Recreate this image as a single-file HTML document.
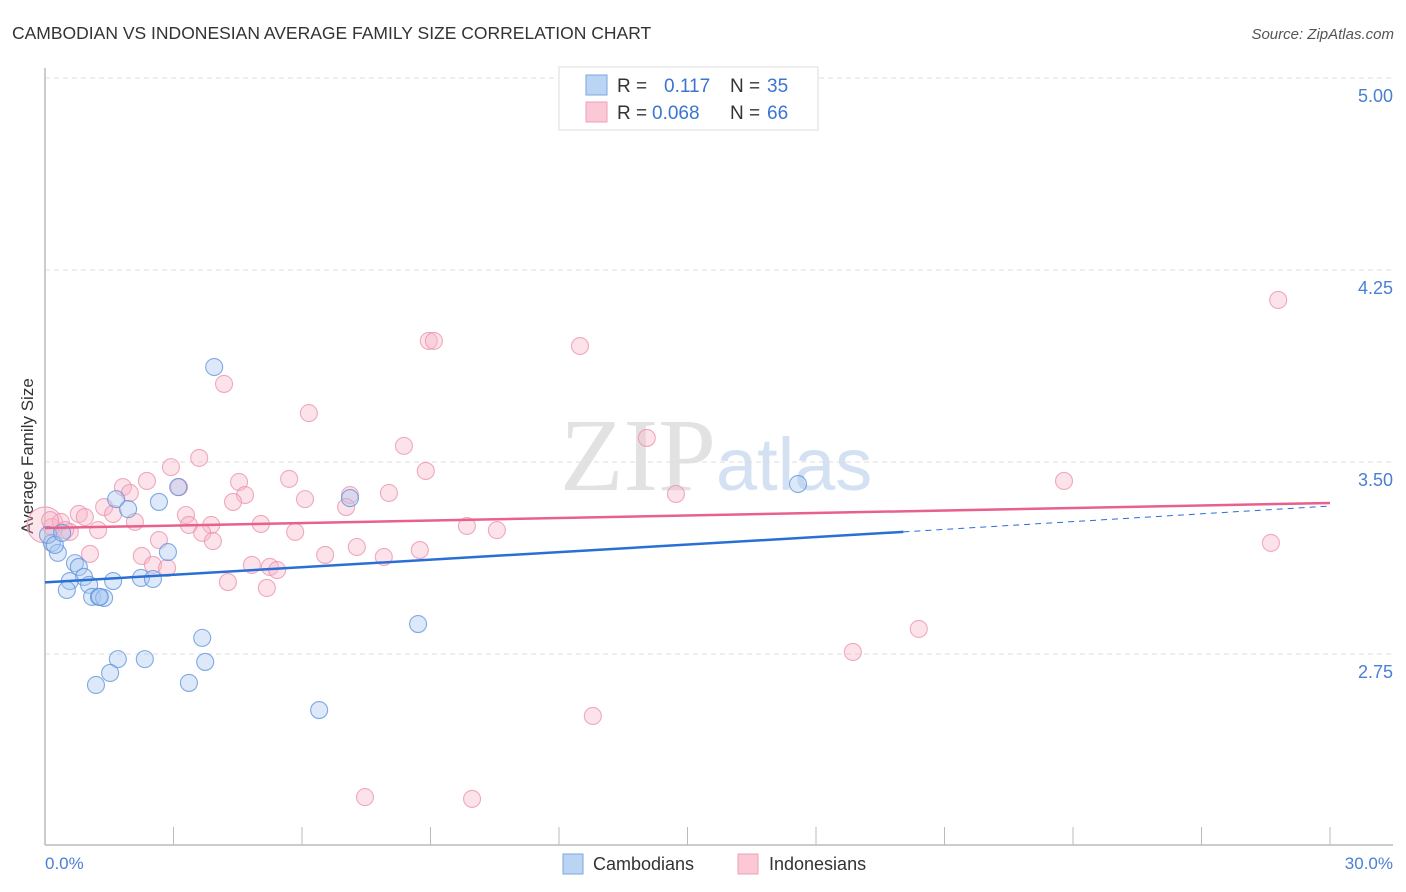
<!DOCTYPE html>
<html><head><meta charset="utf-8"><style>
body{margin:0;background:#fff;font-family:"Liberation Sans",sans-serif;}
#wrap{position:relative;width:1406px;height:892px;overflow:hidden;}
</style></head><body>
<div id="wrap">
<svg id="svg" width="1406" height="892" xmlns="http://www.w3.org/2000/svg">
<text x="12" y="39" font-size="17.5" fill="#333">CAMBODIAN VS INDONESIAN AVERAGE FAMILY SIZE CORRELATION CHART</text>
<text x="1394" y="39" font-size="15" fill="#555" font-style="italic" text-anchor="end">Source: ZipAtlas.com</text>
<text x="716" y="490" font-size="104" fill="#e2e2e2" text-anchor="end" font-family="Liberation Serif">ZIP</text>
<text x="716" y="490" font-size="74" fill="#d3e1f3">atlas</text>
<g id="grid"></g>
<line x1="45" y1="68" x2="45" y2="845" stroke="#bbb" stroke-width="1.5"/>
<line x1="45" y1="845" x2="1393" y2="845" stroke="#bbb" stroke-width="1.5"/>
<g id="ticks"></g>
<text x="33" y="456" font-size="17" fill="#333" text-anchor="middle" transform="rotate(-90 33 456)">Average Family Size</text>
<text x="45" y="869" font-size="17" fill="#4a7fd4">0.0%</text>
<text x="1393" y="869" font-size="17" fill="#4a7fd4" text-anchor="end">30.0%</text>
<g id="pts"></g>
<g id="lines"></g>
<g>
<rect x="559" y="67" width="259" height="63" fill="#fff" stroke="#ddd"/>
<rect x="586" y="75" width="21" height="20" fill="#bcd4f4" stroke="#7aa6e0"/>
<rect x="586" y="102" width="21" height="20" fill="#fbc8d6" stroke="#eea0b8"/>
<text x="617" y="92" font-size="19" fill="#333">R =</text>
<text x="664" y="92" font-size="19" fill="#3a75d0">0.117</text>
<text x="730" y="92" font-size="19" fill="#333">N =</text>
<text x="767" y="92" font-size="19" fill="#3a75d0">35</text>
<text x="617" y="119" font-size="19" fill="#333">R =</text>
<text x="652" y="119" font-size="19" fill="#3a75d0">0.068</text>
<text x="730" y="119" font-size="19" fill="#333">N =</text>
<text x="767" y="119" font-size="19" fill="#3a75d0">66</text>
</g>
<g>
<rect x="563" y="854" width="20" height="20" fill="#bcd4f4" stroke="#7aa6e0"/>
<text x="593" y="870" font-size="18" fill="#333">Cambodians</text>
<rect x="738" y="854" width="20" height="20" fill="#fbc8d6" stroke="#eea0b8"/>
<text x="769" y="870" font-size="18" fill="#333">Indonesians</text>
</g>
</svg>
</div>
<script>
const yTicks=[5.00,4.25,3.50,2.75];
const xTickCount=10;
const bluePx=[[214,367],[178,487],[159,502],[116,499],[128,509],[350,498],[798,484],[52,543],[58,553],[168,552],[75,563],[79,567],[84,577],[70,581],[113,581],[141,578],[153,579],[67,590],[89,585],[92,597],[99,597],[104,598],[202,638],[418,624],[118,659],[145,659],[205,662],[110,673],[96,685],[189,683],[319,710],[48,535],[55,545],[62,533],[100,597]];
const pinkPx=[[1278,300],[429,341],[434,341],[580,346],[224,384],[309,413],[404,446],[647,438],[199,458],[171,467],[426,471],[1064,481],[147,481],[123,487],[179,487],[289,479],[239,482],[350,495],[245,495],[389,493],[305,499],[676,494],[233,502],[104,507],[130,493],[79,514],[85,517],[113,514],[135,522],[186,515],[189,525],[211,525],[202,533],[261,524],[346,507],[295,532],[467,526],[497,530],[98,530],[70,532],[52,527],[61,522],[90,554],[159,540],[213,541],[142,556],[325,555],[357,547],[384,557],[420,550],[153,565],[167,568],[252,565],[270,567],[277,570],[228,582],[267,588],[1271,543],[919,629],[853,652],[593,716],[365,797],[472,799],[65,530],[50,520]];
const blueX=bluePx.map(p=>+((p[0]-45)/1285*30).toFixed(2));
const blueY=bluePx.map(p=>+(3.5-(p[1]-462)/256).toFixed(3));
const pinkX=pinkPx.map(p=>+((p[0]-45)/1285*30).toFixed(2));
const pinkY=pinkPx.map(p=>+(3.5-(p[1]-462)/256).toFixed(3));
const blueTrend=[3.03,3.227];
const blueTrendEnd=3.328;
const pinkTrend=[3.242,3.34];
const NS="http://www.w3.org/2000/svg";
const sx=v=>45+v/30*1285, sy=v=>462-(v-3.5)*256;
function mk(tag,attrs,parent){const e=document.createElementNS(NS,tag);for(const k in attrs)e.setAttribute(k,attrs[k]);document.getElementById(parent).appendChild(e);return e;}
yTicks.forEach(t=>{
 const l=mk('line',{x1:45,x2:1393,y1:sy(t),y2:sy(t),stroke:'#ddd','stroke-dasharray':'5,4'},'grid');
 
 
 const tx=mk('text',{x:1393,y:sy(t)+24,'font-size':18,fill:'#4a7fd4','text-anchor':'end'},'grid');
 tx.textContent=t.toFixed(2);
 
 
});
for(let i=1;i<=xTickCount;i++){
 const l=mk('line',{x1:sx(i*3),x2:sx(i*3),y1:827,y2:845,stroke:'#bbb'},'ticks');
 
 
}
function pts(xs,ys,fill,stroke,name){xs.forEach((x,i)=>{
 const c=mk('circle',{cx:sx(x),cy:sy(ys[i]),r:8.5,fill:fill,'fill-opacity':0.4,stroke:stroke,'stroke-opacity':0.75,'stroke-width':1.1},'pts');
 
 
});}
const big=mk('circle',{cx:45,cy:525,r:18,fill:'#f7b6c9','fill-opacity':0.35,stroke:'#eea0b8'},'pts');


pts(pinkX,pinkY,'#f7b6c9','#eb8fae','pink-point');
pts(blueX,blueY,'#aac8f0','#5a90dc','blue-point');
let a=mk('line',{x1:sx(0),y1:sy(pinkTrend[0]),x2:sx(30),y2:sy(pinkTrend[1]),stroke:'#e8608c','stroke-width':2.5},'lines');


a=mk('line',{x1:sx(0),y1:sy(blueTrend[0]),x2:sx(20.04),y2:sy(blueTrend[1]),stroke:'#2a6fd6','stroke-width':2.5},'lines');


a=mk('line',{x1:sx(20.04),y1:sy(blueTrend[1]),x2:sx(30),y2:sy(blueTrendEnd),stroke:'#2a6fd6','stroke-width':1,'stroke-dasharray':'6,5'},'lines');


</script>
</body></html>
